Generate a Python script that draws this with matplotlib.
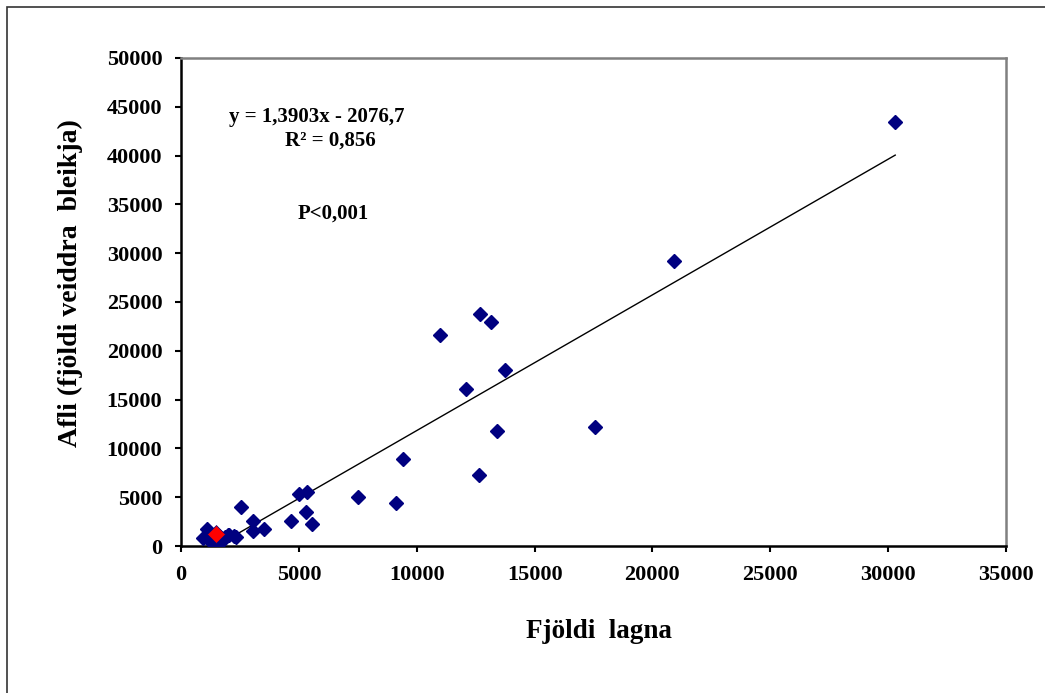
import matplotlib
matplotlib.use("Agg")
import matplotlib.pyplot as plt
from matplotlib.patches import Rectangle
import numpy as np

# Number of nets set (x) against catch of Arctic charr (y), one point per lake/season
lagnir = [30300, 20900, 12700, 13150, 11000, 13750, 12100, 13400, 17550, 9400,
          12650, 7500, 9100, 5000, 5350, 5300, 5550, 4650, 2550, 3050,
          3050, 3500, 2250, 2000, 1100, 950, 1250, 1050, 1250, 1450,
          1850, 2050, 2350, 1700, 1350, 1600]
afli = [43400, 29200, 23800, 22900, 21600, 18000, 16100, 11800, 12200, 8900,
        7300, 5000, 4450, 5300, 5550, 3450, 2250, 2550, 4000, 2600,
        1500, 1700, 1000, 1100, 1700, 800, 500, 1000, 700, 600,
        950, 1150, 950, 450, 300, 1000]

# highlighted lake
sel_x = [1500]
sel_y = [1250]

# linear fit reported on the chart
slope = 1.3903
intercept = -2076.7
r2 = 0.856

x_ticks = np.arange(0, 35001, 5000)
y_ticks = np.arange(0, 50001, 5000)

FONT = "Liberation Serif"
plt.rcParams["font.family"] = FONT
plt.rcParams["font.weight"] = "bold"

W, H = 1045, 693
fig = plt.figure(figsize=(W / 100, H / 100), dpi=100)
fig.patches.append(Rectangle((7 / W, -0.5), 2.0, 1.5 - 7 / H, transform=fig.transFigure,
                             fill=False, edgecolor="#333333", lw=1.2))

ax = fig.add_axes([181 / W, 1 - 546 / H, 825 / W, 488 / H])

xs = np.array([min(lagnir), max(lagnir)])
ax.plot(xs, slope * xs + intercept, color="black", lw=1.0, zorder=2)
ax.plot(lagnir, afli, ls="none", marker="D", ms=6.8, color="#000080", zorder=3)
ax.plot(sel_x, sel_y, ls="none", marker="D", ms=9, color="#ff0000",
        markeredgecolor="#000080", markeredgewidth=0.5, zorder=4)

ax.set_xlim(0, 35000)
ax.set_ylim(0, 50000)
ax.set_xticks(x_ticks)
ax.set_yticks(y_ticks)
ax.tick_params(direction="out", length=4.5, width=1.5, labelsize=16, pad=9)
for lab in ax.get_xticklabels() + ax.get_yticklabels():
    lab.set_fontweight("bold")

for side in ("left", "bottom"):
    ax.spines[side].set_color("black")
    ax.spines[side].set_linewidth(1.8)
for side in ("top", "right"):
    ax.spines[side].set_color("#808080")
    ax.spines[side].set_linewidth(1.8)

fig.text(599 / W, 1 - 632 / H, "Fjöldi  lagna", ha="center", va="center",
         fontsize=19.5, fontweight="bold")
fig.text(70 / W, 1 - 283 / H, "Afli (fjöldi veiddra  bleikja)", ha="center", va="center",
         rotation=90, fontsize=20, fontweight="bold")

eq = f"y = {slope:.4f}x - {abs(intercept):.1f}".replace(".", ",")
ax.text(0.165, 0.879, eq, transform=ax.transAxes, ha="center", va="center",
        fontsize=15, fontweight="bold")
ax.text(0.181, 0.830, f"R² = {r2:.3f}".replace(".", ","), transform=ax.transAxes,
        ha="center", va="center", fontsize=15, fontweight="bold")
ax.text(0.184, 0.682, "P<0,001", transform=ax.transAxes, ha="center", va="center",
        fontsize=15, fontweight="bold")

fig.savefig("out.png", dpi=100, facecolor="white")
